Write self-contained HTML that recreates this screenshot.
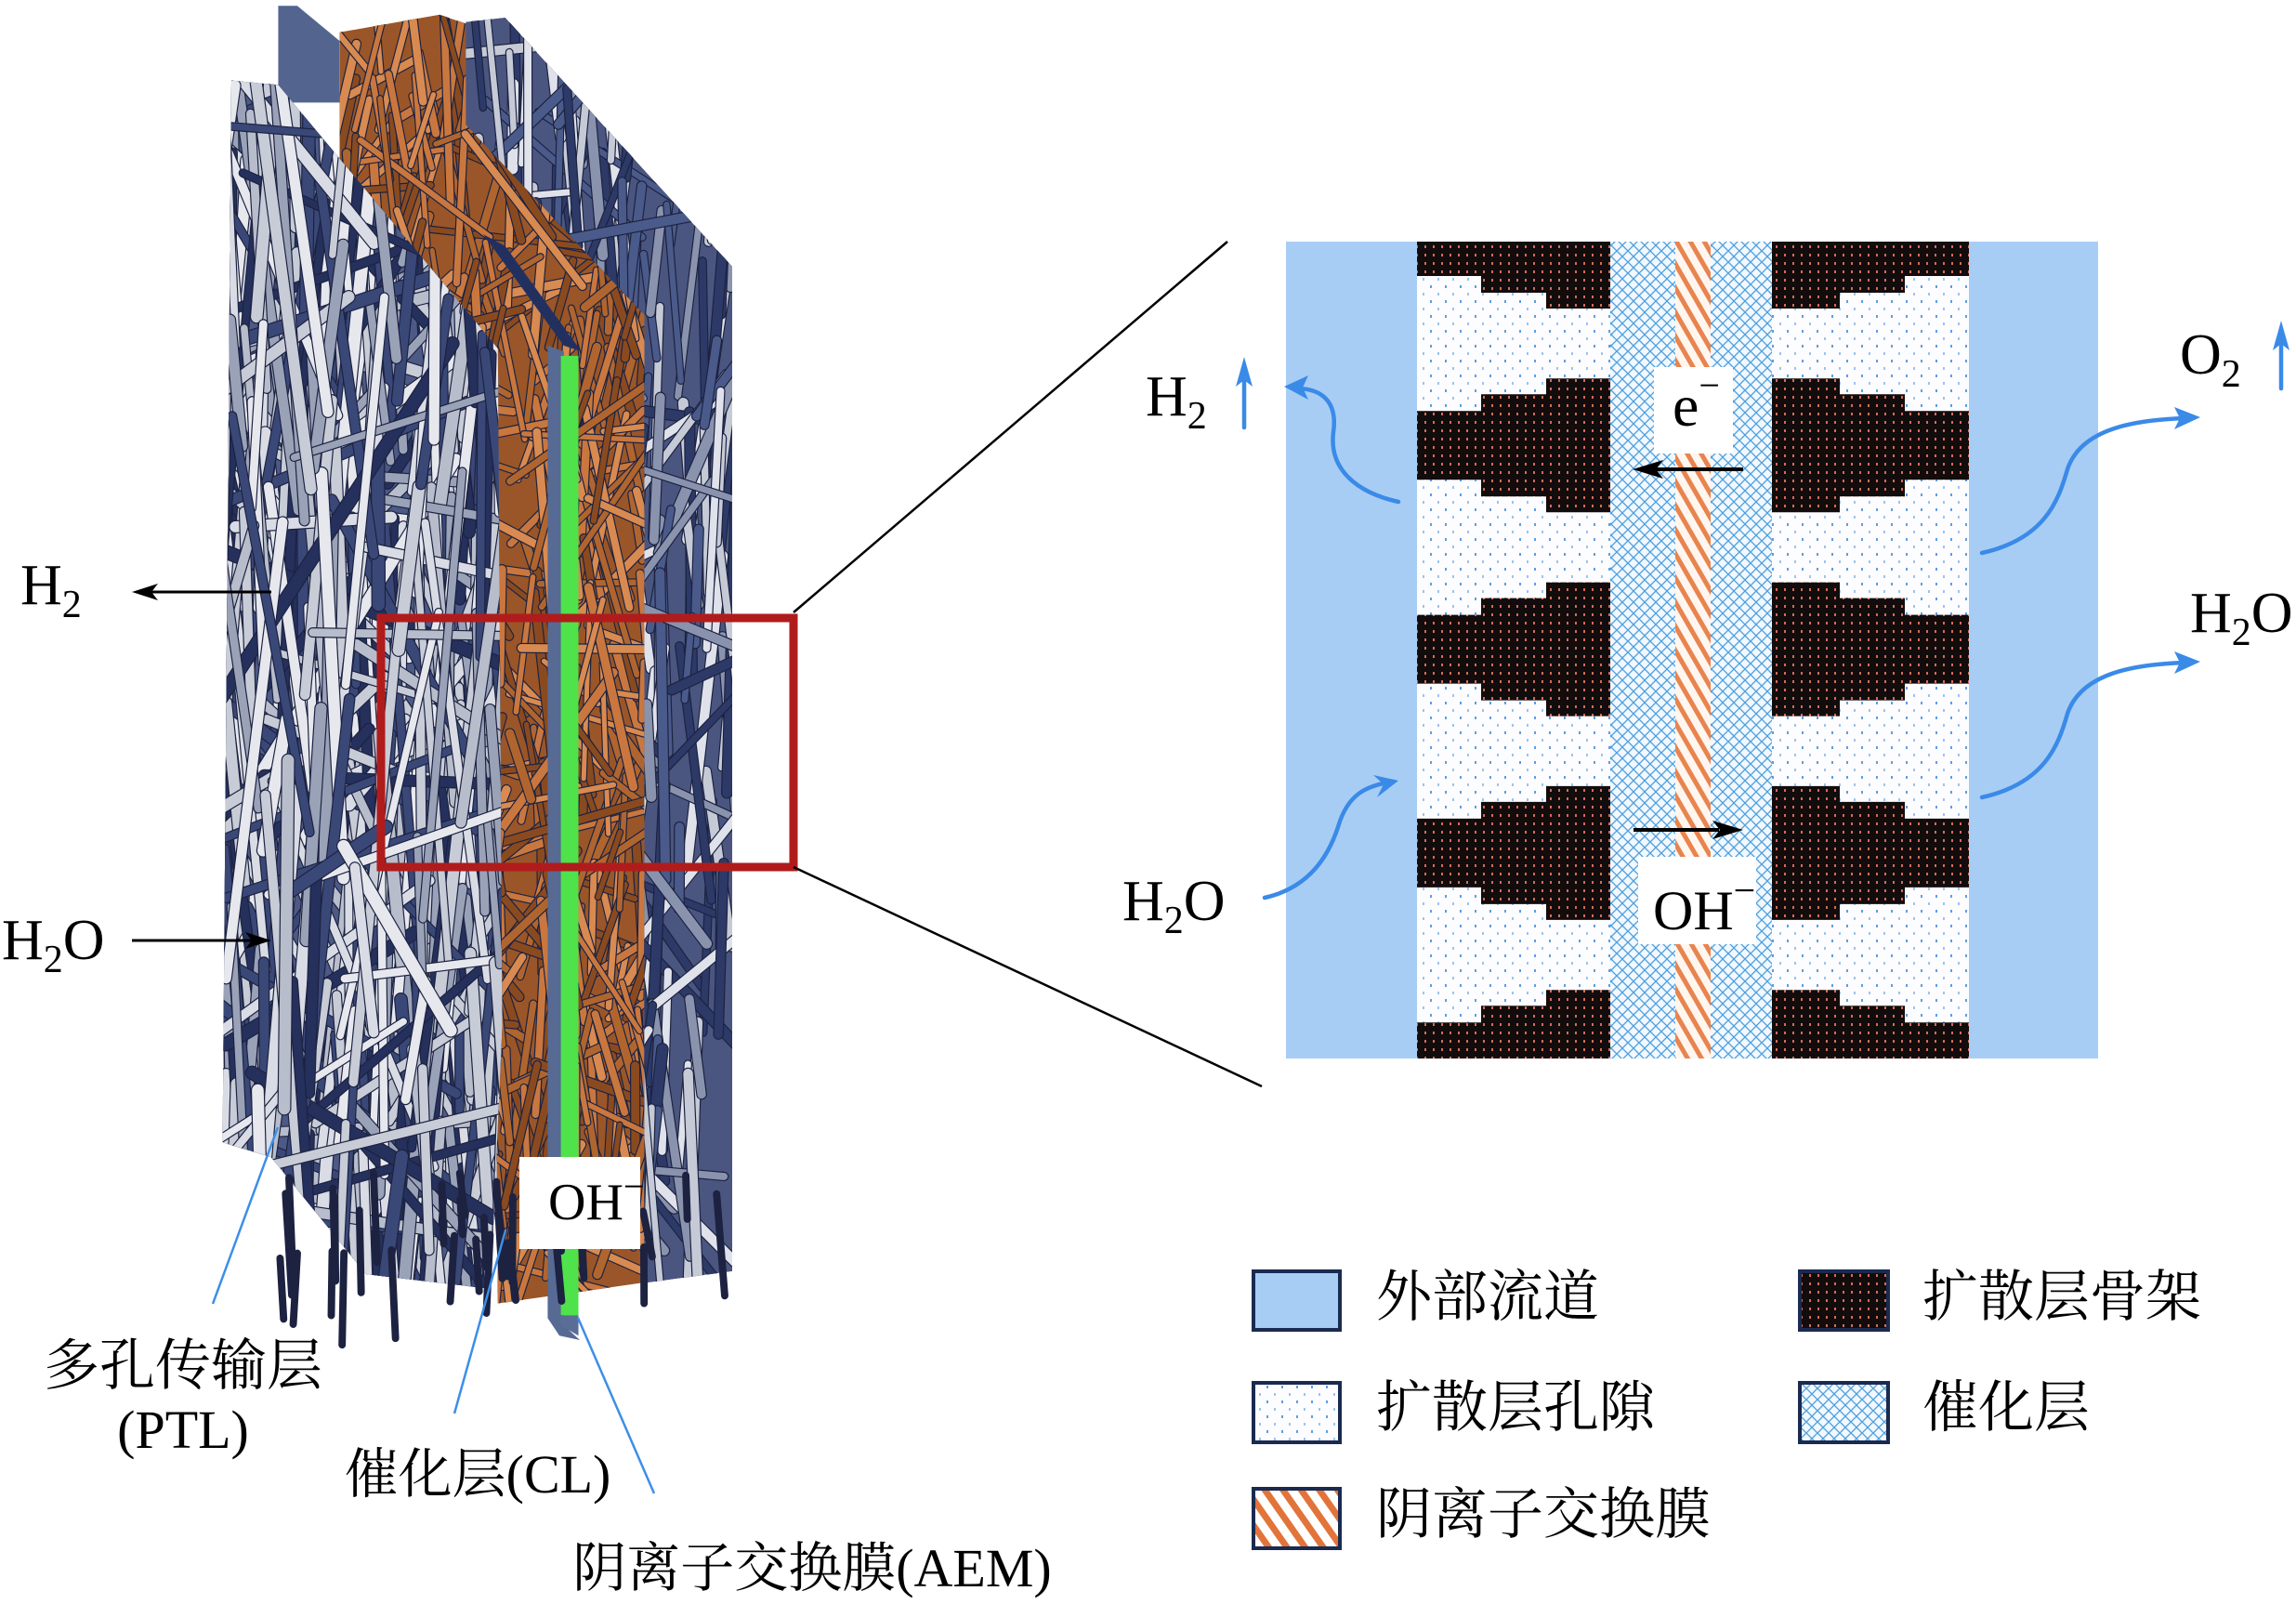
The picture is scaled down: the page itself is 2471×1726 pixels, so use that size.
<!DOCTYPE html>
<html><head><meta charset="utf-8">
<style>
html,body{margin:0;padding:0;background:#fff;}
svg{display:block;}
.t{font-family:"Liberation Serif","Noto Serif CJK SC",serif;fill:#000;}
.c{font-family:"Liberation Serif","Noto Serif CJK SC",serif;fill:#000;}
</style></head>
<body>
<svg id="s" width="2471" height="1726" viewBox="0 0 2471 1726" xmlns="http://www.w3.org/2000/svg">
<defs>
<pattern id="pore" width="16" height="16" patternUnits="userSpaceOnUse">
<rect width="16" height="16" fill="#fdfdff"/>
<rect x="3" y="3" width="2" height="3" fill="#5f9ee0"/>
<rect x="11" y="11" width="2" height="3" fill="#9cc4ee"/>
</pattern>
<pattern id="blk" width="9" height="9" patternUnits="userSpaceOnUse">
<rect width="9" height="9" fill="#120c0c"/>
<rect x="3" y="3" width="2" height="3" fill="#d46a5a"/>
</pattern>
<pattern id="cl" width="12" height="12" patternUnits="userSpaceOnUse">
<rect width="12" height="12" fill="#f2f8fe"/>
<path d="M0 6 L6 0 L12 6 L6 12 Z" fill="none" stroke="#4ea0de" stroke-width="1.3"/>
</pattern>
<pattern id="mem" width="13" height="13" patternUnits="userSpaceOnUse" patternTransform="rotate(-30)">
<rect width="13" height="13" fill="#fff6f0"/>
<rect x="0" y="0" width="5" height="13" fill="#e8844e"/>
</pattern>
<pattern id="mem2" width="16" height="16" patternUnits="userSpaceOnUse" patternTransform="rotate(-35)">
<rect width="16" height="16" fill="#fff"/>
<rect x="0" y="0" width="7" height="16" fill="#e2743a"/>
</pattern>
<clipPath id="rc"><rect x="1384" y="260" width="874" height="879"/></clipPath>
</defs>

<g id="left" transform="scale(1.576)"></g>

<rect x="410" y="665" width="444" height="268" fill="none" stroke="#b01c1c" stroke-width="9"/>
<line x1="854" y1="659" x2="1321" y2="260" stroke="#000" stroke-width="2.5"/>
<line x1="854" y1="933" x2="1358" y2="1169" stroke="#000" stroke-width="2.5"/>

<text class="t" x="22" y="650" font-size="62">H<tspan font-size="42" dy="14">2</tspan></text>
<line x1="292" y1="637" x2="160" y2="637" stroke="#000" stroke-width="3"/>
<path d="M142 637 L170 628 L163 637 L170 646 Z" fill="#000"/>
<text class="t" x="2" y="1032" font-size="62">H<tspan font-size="42" dy="14">2</tspan><tspan dy="-14">O</tspan></text>
<line x1="142" y1="1012" x2="275" y2="1012" stroke="#000" stroke-width="3"/>
<path d="M292 1012 L264 1003 L271 1012 L264 1021 Z" fill="#000"/>

<rect x="559" y="1245" width="130" height="99" fill="#fff"/>
<text class="t" x="590" y="1312" font-size="56">OH<tspan font-size="40" dy="-22">−</tspan></text>

<line x1="299" y1="1213" x2="229" y2="1403" stroke="#3d8ee8" stroke-width="2.5"/>
<line x1="544" y1="1324" x2="489" y2="1521" stroke="#3d8ee8" stroke-width="2.5"/>
<line x1="622" y1="1418" x2="704" y2="1607" stroke="#3d8ee8" stroke-width="2.5"/>

<text class="c" x="197" y="1490" font-size="60" text-anchor="middle">多孔传输层</text>
<text class="c" x="197" y="1558" font-size="58" text-anchor="middle">(PTL)</text>
<text class="c" x="514" y="1606" font-size="58" text-anchor="middle">催化层(CL)</text>
<text class="c" x="874" y="1707" font-size="58" text-anchor="middle">阴离子交换膜(AEM)</text>

<g clip-path="url(#rc)">
<rect x="1384" y="260" width="141" height="879" fill="#a8cdf4"/>
<rect x="2119" y="260" width="139" height="879" fill="#a8cdf4"/>
<rect x="1525" y="260" width="208" height="879" fill="url(#pore)"/>
<rect x="1907" y="260" width="212" height="879" fill="url(#pore)"/>
<rect x="1733" y="260" width="174" height="879" fill="url(#cl)"/>
<rect x="1803" y="260" width="38" height="879" fill="url(#mem)"/>
<g id="blocks"></g>
</g>

<rect x="1780" y="395" width="85" height="93" fill="#fff"/>
<text class="t" x="1800" y="458" font-size="64">e<tspan font-size="40" dy="-30">−</tspan></text>
<line x1="1876" y1="505" x2="1780" y2="505" stroke="#000" stroke-width="4"/>
<path d="M1757 505 L1790 495 L1782 505 L1790 515 Z" fill="#000"/>
<rect x="1763" y="922" width="127" height="94" fill="#fff"/>
<text class="t" x="1779" y="1000" font-size="60">OH<tspan font-size="42" dy="-28">−</tspan></text>
<line x1="1758" y1="893" x2="1850" y2="893" stroke="#000" stroke-width="4"/>
<path d="M1876 893 L1843 883 L1851 893 L1843 903 Z" fill="#000"/>

<g fill="none" stroke="#3a8ae8" stroke-width="4.5" stroke-linecap="round">
<path d="M1505 540 C1460 530 1430 505 1435 465 C1440 430 1420 418 1395 418"/>
<path d="M1361 966 C1410 955 1430 920 1440 890 C1450 855 1470 845 1500 841"/>
<path d="M2133 595 C2200 580 2215 540 2225 505 C2240 460 2300 452 2350 450"/>
<path d="M2133 858 C2200 843 2215 803 2225 768 C2240 723 2300 715 2350 713"/>
<line x1="1339" y1="460" x2="1339" y2="400"/>
<line x1="2455" y1="418" x2="2455" y2="360"/>
</g>
<g fill="#3a8ae8">
<path d="M1382 416 L1408 404 L1402 417 L1408 430 Z"/>
<path d="M1505 840 L1478 834 L1489 844 L1482 858 Z"/>
<path d="M2368 449 L2340 438 L2346 450 L2340 462 Z"/>
<path d="M2368 712 L2340 701 L2346 713 L2340 725 Z"/>
<path d="M1339 384 L1330 416 L1339 409 L1348 416 Z"/>
<path d="M2455 345 L2446 377 L2455 370 L2464 377 Z"/>
</g>

<text class="t" x="1233" y="447" font-size="62">H<tspan font-size="42" dy="14">2</tspan></text>
<text class="t" x="2346" y="402" font-size="62">O<tspan font-size="42" dy="14">2</tspan></text>
<text class="t" x="2357" y="680" font-size="62">H<tspan font-size="42" dy="14">2</tspan><tspan dy="-14">O</tspan></text>
<text class="t" x="1208" y="990" font-size="62">H<tspan font-size="42" dy="14">2</tspan><tspan dy="-14">O</tspan></text>

<g stroke="#1a2a50" stroke-width="4">
<rect x="1349" y="1368" width="93" height="63" fill="#a8cdf4"/>
<rect x="1349" y="1488" width="93" height="64" fill="url(#pore)"/>
<rect x="1349" y="1602" width="93" height="64" fill="url(#mem2)"/>
<rect x="1937" y="1368" width="95" height="63" fill="url(#blk)"/>
<rect x="1937" y="1488" width="95" height="64" fill="url(#cl)"/>
</g>
<text class="c" x="1481" y="1416" font-size="60">外部流道</text>
<text class="c" x="1481" y="1535" font-size="60">扩散层孔隙</text>
<text class="c" x="1481" y="1650" font-size="60">阴离子交换膜</text>
<text class="c" x="2069" y="1416" font-size="60">扩散层骨架</text>
<text class="c" x="2069" y="1535" font-size="60">催化层</text>
</svg>
<script>
(function(){
var NS="http://www.w3.org/2000/svg";
function el(t,a,p){var e=document.createElementNS(NS,t);for(var k in a)e.setAttribute(k,a[k]);p.appendChild(e);return e;}
var B=document.getElementById("blocks");
for(var k=0;k<5;k++){
 var c=260+219.3*k;
 el("path",{d:"M1525 "+(c-37)+" H1594 V"+(c-55)+" H1664 V"+(c-72)+" H1733 V"+(c+72)+" H1664 V"+(c+55)+" H1594 V"+(c+37)+" H1525 Z",fill:"url(#blk)"},B);
 el("path",{d:"M2119 "+(c-37)+" H2050 V"+(c-55)+" H1980 V"+(c-72)+" H1907 V"+(c+72)+" H1980 V"+(c+55)+" H2050 V"+(c+37)+" H2119 Z",fill:"url(#blk)"},B);
}
var seed=12345;function r(){seed=(seed*1103515245+12345)%2147483648;return seed/2147483648;}
var G=document.getElementById("left");
var defs=document.querySelector("defs");
function layer(id,pts,base,cols,n,w,angSpread,diagFrac,lmin,lmax){
 var cp=el("clipPath",{id:id},defs);el("polygon",{points:pts},cp);
 var g=el("g",{"clip-path":"url(#"+id+")"},G);
 el("polygon",{points:pts,fill:base},g);
 var ps=pts.split(" ").map(function(s){return s.split(",").map(Number);});
 var minx=1e9,maxx=-1e9,miny=1e9,maxy=-1e9;
 ps.forEach(function(p){minx=Math.min(minx,p[0]);maxx=Math.max(maxx,p[0]);miny=Math.min(miny,p[1]);maxy=Math.max(maxy,p[1]);});
 for(var i=0;i<n;i++){
  var x=minx+r()*(maxx-minx),y=miny+r()*(maxy-miny);
  var a=(r()<diagFrac)?(r()*Math.PI):(Math.PI/2+(r()-0.5)*angSpread);
  var len=lmin+r()*(lmax-lmin);
  var dx=Math.cos(a)*len/2,dy=Math.sin(a)*len/2;
  var col=cols[Math.floor(r()*cols.length)];
  var ww=w*(0.7+r()*0.6);
  el("line",{x1:x-dx,y1:y-dy,x2:x+dx,y2:y+dy,stroke:"#1c2240",'stroke-width':ww+1.5,'stroke-linecap':"round"},g);
  el("line",{x1:x-dx,y1:y-dy,x2:x+dx,y2:y+dy,stroke:col,'stroke-width':ww,'stroke-linecap':"round"},g);
 }
}
// top plate
el("polygon",{points:"190,4 203,4 232,28 232,70 190,70",fill:"#53658f"},G);
// orange CL (both sides of membrane)
layer("l2","232,22 300,10 330,20 445,150 445,875 340,890 335,250 232,130","#9a5628",["#c9773f","#b0652f","#d88a50","#8a4a20"],520,4.5,0.7,0.4,30,140);
// back right PTL band
layer("l1","318,15 345,12 500,182 500,868 440,876 440,215 318,85","#4a5680",["#2d3a68","#4a5a8a","#8a93ad","#c5cad6","#dfe2ea"],260,5.5,0.3,0.3,50,220);
// membrane plate
el("polygon",{points:"330,160 385,236 397,240 345,168",fill:"#223060"},G);
el("polygon",{points:"374,236 385,240 385,905 396,915 382,912 374,900",fill:"#566a94"},G);
el("rect",{x:383,y:243,width:12,height:655,fill:"#4fe24a"},G);
el("polygon",{points:"383,898 395,898 395,912 383,905",fill:"#5a6d96"},G);
// front PTL
layer("l3","158,55 190,58 340,238 343,700 335,880 250,870 185,790 152,780","#4d5a86",["#c8ccd7","#d9dce4","#e6e8ee","#9aa2b8","#3a4878","#25305c","#b8bdcb"],460,6.5,0.3,0.3,80,320);
var g2=el("g",{},G);
for(var i=0;i<30;i++){var x=190+r()*310,y=800+r()*60;el("line",{x1:x,y1:y,x2:x+(r()-0.3)*10,y2:y+20+r()*50,stroke:"#1c2240",'stroke-width':5,'stroke-linecap':"round"},g2);}
})();
</script>
</body></html>
